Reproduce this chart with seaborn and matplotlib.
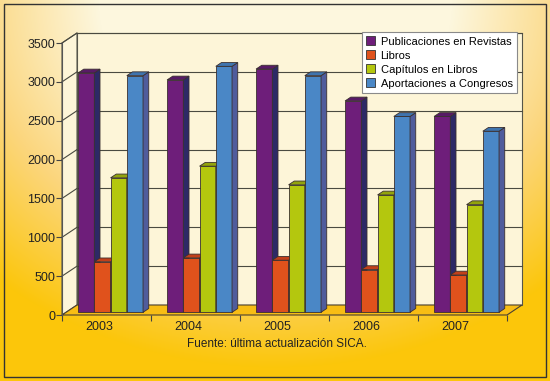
import matplotlib
matplotlib.use("Agg")
import matplotlib.pyplot as plt
from matplotlib.patches import Polygon, Rectangle
from matplotlib.transforms import ScaledTranslation
import numpy as np
import pandas as pd
import seaborn as sns

# data
years = ["2003", "2004", "2005", "2006", "2007"]
series = ["Publicaciones en Revistas", "Libros", "Capítulos en Libros",
          "Aportaciones a Congresos"]
revistas = [3080, 2990, 3130, 2720, 2520]
libros = [650, 700, 670, 550, 480]
capitulos = [1730, 1880, 1640, 1510, 1385]
congresos = [3045, 3165, 3045, 2520, 2330]

front_colors = ["#6e1e7a", "#e0521c", "#b4c70e", "#4a87c6"]
side_colors = ["#2d2966", "#a8360f", "#7a8a0c", "#505c9c"]
top_colors = ["#581a66", "#c2401a", "#93a40c", "#3f74ae"]

plt.rcParams["font.family"] = ["Liberation Sans", "DejaVu Sans"]

rows = []
for name, vals in zip(series, [revistas, libros, capitulos, congresos]):
    for yr, v in zip(years, vals):
        rows.append({"year": yr, "value": v, "serie": name})
df = pd.DataFrame(rows)

W, H = 550, 381
fig = plt.figure(figsize=(W / 100, H / 100), dpi=100)

# background gradient + frame
bg = fig.add_axes([0, 0, 1, 1])
bg.axis("off")
yy, xx = np.mgrid[0:H, 0:W]
d = np.sqrt(((xx - 275) / 420) ** 2 + (yy / 360) ** 2)
t = np.clip((d - 0.42) / 0.6, 0, 1)[..., None]
c0 = np.array([253, 247, 222]) / 255
c1 = np.array([251, 214, 125]) / 255
c2 = np.array([252, 198, 10]) / 255
img = np.where(t < 0.5, c0 + (c1 - c0) * (t / 0.5), c1 + (c2 - c1) * ((t - 0.5) / 0.5))
bg.imshow(img, extent=[0, W, H, 0], aspect="auto")
bg.set_xlim(0, W)
bg.set_ylim(H, 0)
bg.add_patch(Rectangle((3.5, 3.5), 542, 373, fill=False, ec="#333333", lw=1))

# front plane of the 3d box
ax = fig.add_axes([62 / W, (H - 315) / H, 445 / W, 272 / H])
ax.set_xlim(-0.5, 4.5)
ax.set_ylim(0, 3500)
ax.patch.set_visible(False)
px_x = ax.bbox.width / 5
px_y = ax.bbox.height / 3500
bx, by = 15 / px_x, 10 / px_y

edge = "#55554a"
ax.add_patch(Polygon([(-0.5 + bx, by), (4.5 + bx, by), (4.5 + bx, 3500 + by), (-0.5 + bx, 3500 + by)],
                     closed=True, fc="#fdf5d8", ec=edge, lw=0.8, zorder=0.5, clip_on=False))
ax.add_patch(Polygon([(-0.5, 0), (-0.5 + bx, by), (-0.5 + bx, 3500 + by), (-0.5, 3500)],
                     closed=True, fc="#fdf5d8", ec=edge, lw=0.8, zorder=0.6, clip_on=False))
ax.add_patch(Polygon([(-0.5, 0), (4.5, 0), (4.5 + bx, by), (-0.5 + bx, by)],
                     closed=True, fc="#f8bd14", ec="#4a4030", lw=0.8, zorder=0.7, clip_on=False))
for v in range(500, 3501, 500):
    ax.plot([-0.5 + bx, 4.5 + bx], [v + by, v + by], color="#4a4a40", lw=0.8, zorder=1, clip_on=False)
    ax.plot([-0.5, -0.5 + bx], [v, v + by], color="#4a4a40", lw=0.8, zorder=1, clip_on=False)

sns.barplot(data=df, x="year", y="value", hue="serie", palette=front_colors,
            width=0.73, saturation=1, edgecolor="#3a3030", linewidth=0.6, ax=ax)

# push bars back a little and give them side and top faces
sx, sy = 0.27 * bx, 0.27 * by
dx, dy = 0.38 * bx, 0.38 * by
for k, cont in enumerate(ax.containers):
    for bar in cont:
        x0, w, h = bar.get_x() + sx, bar.get_width(), bar.get_height()
        z = 3 + bar.get_x()
        bar.set_x(x0)
        bar.set_y(sy)
        bar.set_zorder(z)
        bar.set_clip_on(False)
        top = sy + h
        ax.add_patch(Polygon([(x0 + w, sy), (x0 + w, top), (x0 + w + dx, top + dy), (x0 + w + dx, sy + dy)],
                             closed=True, fc=side_colors[k], ec="#3a3030", lw=0.6, zorder=z, clip_on=False))
        ax.add_patch(Polygon([(x0, top), (x0 + w, top), (x0 + w + dx, top + dy), (x0 + dx, top + dy)],
                             closed=True, fc=top_colors[k], ec="#3a3030", lw=0.6, zorder=z, clip_on=False))

for s in ["top", "right", "bottom"]:
    ax.spines[s].set_visible(False)
ax.spines["left"].set_color("#555")
ax.spines["left"].set_linewidth(0.8)
ax.set_yticks(range(0, 3501, 500))
ax.tick_params(axis="y", length=4, width=0.8, color="#444", labelsize=9, pad=1, labelcolor="#222")
ax.set_xticks(np.arange(-0.5, 5, 1), minor=True)
ax.tick_params(axis="x", which="major", length=0, labelsize=9, pad=4, labelcolor="#222")
ax.tick_params(axis="x", which="minor", length=4, width=0.8, color="#444")
for lbl in ax.get_xticklabels():
    lbl.set_transform(lbl.get_transform() + ScaledTranslation(-0.07, 0, fig.dpi_scale_trans))
ax.set_xlabel("")
ax.set_ylabel("")

sns.move_legend(ax, "upper right", bbox_to_anchor=(517 / W, 1 - 32 / H),
                bbox_transform=fig.transFigure, title=None, frameon=True, fontsize=8,
                handlelength=0.8, handleheight=0.8, handletextpad=0.5, labelspacing=0.35,
                borderpad=0.4, fancybox=False, framealpha=1, edgecolor="#8a8a8a", borderaxespad=0)
leg = ax.get_legend()
leg.set_zorder(20)
leg.get_frame().set_linewidth(0.8)
for hnd in leg.legend_handles:
    hnd.set_edgecolor("#333")
    hnd.set_linewidth(0.6)

fig.text(277 / W, 1 - 344 / H, "Fuente: última actualización SICA.", ha="center", va="center",
         fontsize=8.5, color="#222")

fig.savefig("out.png", dpi=100)
